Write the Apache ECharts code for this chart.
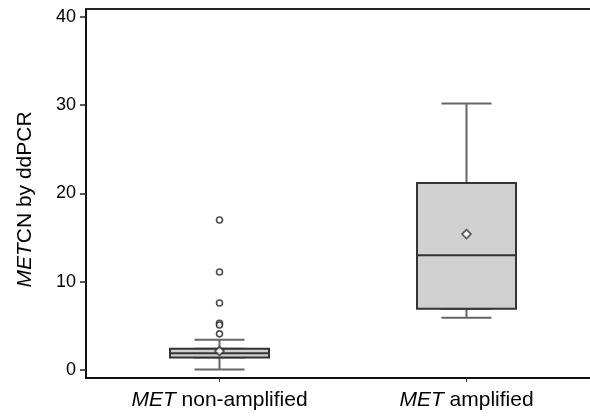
<!DOCTYPE html>
<html>
<head>
<meta charset="utf-8">
<script src="https://cdn.jsdelivr.net/npm/echarts@6/dist/echarts.min.js"></script>
<style>
	html, body { margin: 0; padding: 0; background: #fff; }
	#chart { width: 590px; height: 417px; }
</style>
</head>
<body>
<div id="chart"></div>
<script>
	// groups sit at x = 1 and x = 2 on a value axis
	var groupPos = [1, 2];
	var groupLabels = ['{i|MET} non-amplified', '{i|MET} amplified'];
	// [min, Q1, median, Q3, max]
	var boxStats = [
		[0.05, 1.42, 1.9, 2.4, 3.43],
		[5.92, 6.94, 13.0, 21.2, 30.2]
	];
	var means = [2.15, 15.4];
	var outlierGroup = [1, 1, 1, 1, 1, 1];
	var outlierValues = [17.0, 11.1, 7.6, 5.3, 5.1, 4.1];
	var yTicks = [0, 10, 20, 30, 40];

	var chart = echarts.init(document.getElementById('chart'), null, { renderer: 'canvas' });

	var whiskerData = [], boxData = [], meanData = [], outlierData = [];
	boxStats.forEach(function(s, i) {
		whiskerData.push([groupPos[i]].concat(s));
		boxData.push([groupPos[i], s[1], s[1], s[2], s[3], s[3]]);
		meanData.push([groupPos[i], means[i]]);
	});
	outlierValues.forEach(function(v, i) {
		outlierData.push([outlierGroup[i], v]);
	});

	var font = '"Liberation Sans", Arial, sans-serif';

	chart.setOption({
		animation: false,
		grid: {
			left: 86, top: 9, bottom: 39, right: -10,
			outerBoundsMode: 'none',
			containLabel: false,
			show: false
		},
		xAxis: [{
			type: 'value',
			min: 0.4595,
			max: 2.5405,
			position: 'bottom',
			splitLine: { show: false },
			axisLine: { show: true, onZero: false, lineStyle: { color: '#111', width: 2 } },
			axisTick: { show: true, customValues: groupPos, length: 4, lineStyle: { color: '#333' } },
			axisLabel: {
				customValues: groupPos,
				margin: 12,
				color: '#000',
				fontFamily: font,
				fontSize: 21,
				formatter: function(v) {
					var idx = groupPos.indexOf(Math.round(v));
					return idx >= 0 ? groupLabels[idx] : '';
				},
				rich: {
					i: { fontStyle: 'italic', fontFamily: font, fontSize: 21, color: '#000' }
				}
			}
		}, {
			// top frame line, same scale
			type: 'value',
			min: 0.4595,
			max: 2.5405,
			position: 'top',
			splitLine: { show: false },
			axisLine: { show: true, onZero: false, lineStyle: { color: '#222', width: 2 } },
			axisTick: { show: false },
			axisLabel: { show: false }
		}],
		yAxis: {
			type: 'value',
			min: -0.9,
			max: 40.9,
			splitLine: { show: false },
			axisLine: { show: true, onZero: false, lineStyle: { color: '#111', width: 2 } },
			axisTick: { show: true, customValues: yTicks, length: 6, lineStyle: { color: '#222', width: 1.5 } },
			axisLabel: { customValues: yTicks, margin: 10, color: '#000', fontFamily: font, fontSize: 18 },
			name: '{i|MET}CN by ddPCR',
			nameLocation: 'middle',
			nameGap: 50,
			nameTextStyle: {
				color: '#000', fontFamily: font, fontSize: 21,
				padding: [0, 12, 0, 0],
				rich: { i: { fontStyle: 'italic', fontFamily: font, fontSize: 21, color: '#000' } }
			}
		},
		series: [
			{
				type: 'boxplot',
				layout: 'horizontal',
				xAxisIndex: 0,
				boxWidth: [50, 50],
				data: whiskerData,
				z: 2,
				itemStyle: { color: 'rgba(0,0,0,0)', borderColor: '#666', borderWidth: 2 }
			},
			{
				type: 'boxplot',
				layout: 'horizontal',
				xAxisIndex: 1,
				boxWidth: [99, 99],
				data: boxData,
				z: 3,
				itemStyle: { color: '#d0d0d0', borderColor: '#333', borderWidth: 2 }
			},
			{
				type: 'scatter',
				data: outlierData,
				symbol: 'circle',
				symbolSize: 6,
				z: 4,
				itemStyle: { color: '#fff', borderColor: '#222', borderWidth: 1.6 }
			},
			{
				type: 'scatter',
				data: meanData,
				symbol: 'diamond',
				symbolSize: 9,
				z: 5,
				itemStyle: { color: '#fff', borderColor: '#333', borderWidth: 1.6 }
			}
		]
	});
</script>
</body>
</html>
